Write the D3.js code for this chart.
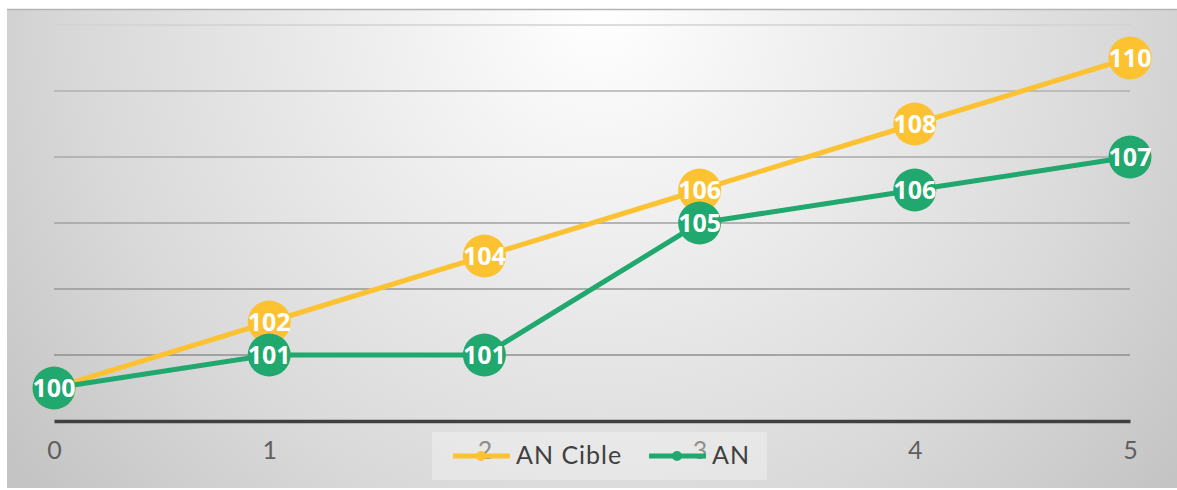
<!DOCTYPE html>
<html>
<head>
<meta charset="utf-8">
<script src="https://cdn.jsdelivr.net/npm/d3@7"></script>
<style>
  body { margin: 0; background: #fff; }
  svg { display: block; }
</style>
</head>
<body>
<svg id="chart"></svg>
<script>
// data
const years = [0, 1, 2, 3, 4, 5]
const cible = [100, 102, 104, 106, 108, 110]
const an = [100, 101, 101, 105, 106, 107]
const seriesNames = ['AN Cible', 'AN']
const seriesColors = ['#fcc232', '#20a86e']

const W = 1177, H = 490
const margin = {top: 25, right: 47, bottom: 69, left: 54}

const svg = d3.select('#chart').attr('width', W).attr('height', H)

// background panel
const defs = svg.append('defs')
const grad = defs.append('radialGradient')
  .attr('id', 'bg')
  .attr('gradientUnits', 'userSpaceOnUse')
  .attr('cx', 600).attr('cy', 10).attr('r', 740)
grad.append('stop').attr('offset', 0).attr('stop-color', '#ffffff')
grad.append('stop').attr('offset', 0.35).attr('stop-color', '#ececec')
grad.append('stop').attr('offset', 0.7).attr('stop-color', '#d9d9d9')
grad.append('stop').attr('offset', 1).attr('stop-color', '#c4c4c4')

svg.append('rect')
  .attr('x', 7).attr('y', 9)
  .attr('width', W - 7).attr('height', 479)
  .attr('fill', 'url(#bg)')
svg.append('line')
  .attr('x1', 7).attr('x2', W).attr('y1', 9.5).attr('y2', 9.5)
  .attr('stroke', '#b5b5b5').attr('stroke-width', 1.5)

const x = d3.scaleLinear()
  .domain([0, 5])
  .range([margin.left, W - margin.right])

const y = d3.scaleLinear()
  .domain([99, 111])
  .range([H - margin.bottom, margin.top])

// gridlines, a bit darker toward the bottom like the original
const grid = [101, 103, 105, 107, 109, 111]
const gridColor = d3.scaleLinear().domain([101, 109, 111]).range(['#8f8f8f', '#b0b0b0', '#d2d2d2'])
svg.append('g')
  .selectAll('line')
  .data(grid)
  .join('line')
    .attr('x1', x(0)).attr('x2', x(5))
    .attr('y1', d => y(d)).attr('y2', d => y(d))
    .attr('stroke', d => gridColor(d))
    .attr('stroke-width', 1.5)

// x axis
const xAxis = svg.append('g')
  .attr('transform', 'translate(0,' + y(99) + ')')
  .call(d3.axisBottom(x).tickValues(years).tickSize(0).tickPadding(20).tickFormat(d3.format('d')))
xAxis.select('.domain')
  .attr('stroke', '#404040').attr('stroke-width', 3.5)
xAxis.selectAll('text')
  .attr('font-family', 'Lato, sans-serif')
  .attr('font-size', '25px')
  .attr('font-weight', 400)
  .attr('fill', '#5f5f5f')

// series
const allSeries = [cible, an]
const line = d3.line()
  .x((d, i) => x(years[i]))
  .y(d => y(d))

allSeries.forEach((vals, s) => {
  const g = svg.append('g')
  g.append('path')
    .datum(vals)
    .attr('fill', 'none')
    .attr('stroke', seriesColors[s])
    .attr('stroke-width', 5)
    .attr('stroke-linejoin', 'round')
    .attr('d', line)

  g.selectAll('circle')
    .data(vals)
    .join('circle')
      .attr('cx', (d, i) => x(years[i]))
      .attr('cy', d => y(d))
      .attr('r', 21.5)
      .attr('fill', seriesColors[s])

  g.selectAll('text')
    .data(vals)
    .join('text')
      .attr('x', (d, i) => x(years[i]))
      .attr('y', d => y(d))
      .attr('dy', '0.36em')
      .attr('text-anchor', 'middle')
      .attr('font-family', '"Open Sans", sans-serif')
      .attr('font-weight', 700)
      .attr('font-size', '25px')
      .attr('fill', '#ffffff')
      .text(d => d)
})

// legend
const legend = svg.append('g')
legend.append('rect')
  .attr('x', 432).attr('y', 432)
  .attr('width', 335).attr('height', 48)
  .attr('fill', '#ffffff').attr('fill-opacity', 0.3)

const legendX = [453, 649]
seriesNames.forEach((name, s) => {
  const lx = legendX[s]
  legend.append('line')
    .attr('x1', lx).attr('x2', lx + 57)
    .attr('y1', 456).attr('y2', 456)
    .attr('stroke', seriesColors[s]).attr('stroke-width', 5)
  legend.append('circle')
    .attr('cx', lx + 28).attr('cy', 456).attr('r', 5)
    .attr('fill', seriesColors[s])
  legend.append('text')
    .attr('x', lx + 63).attr('y', 464)
    .attr('font-family', 'Lato, sans-serif')
    .attr('font-size', '25px')
    .attr('letter-spacing', '1px')
    .attr('fill', '#404040')
    .text(name)
})
</script>
</body>
</html>
